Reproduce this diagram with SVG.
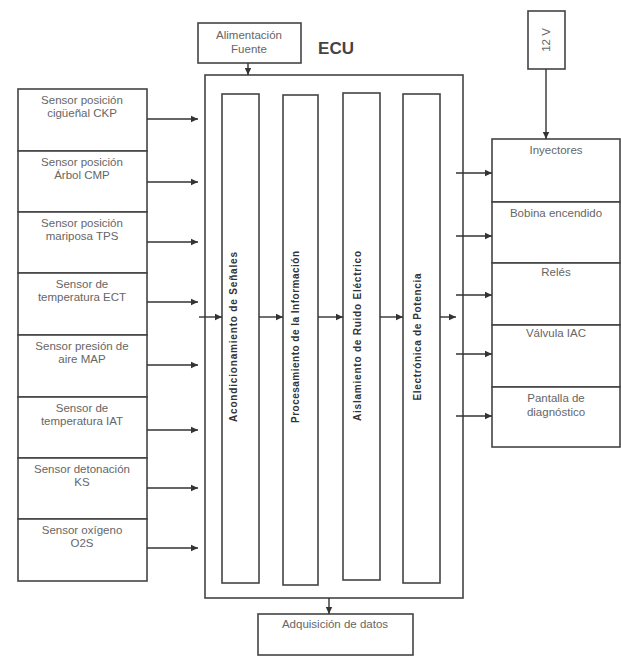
<svg xmlns="http://www.w3.org/2000/svg" width="621" height="657" viewBox="0 0 621 657">
<style>
.box{fill:#fff;stroke:#444;stroke-width:1.6}
.t{font-family:"Liberation Sans",Arial,sans-serif;font-size:11.5px;fill:#666;text-anchor:middle}
.v{font-family:"Liberation Sans",Arial,sans-serif;font-size:10px;font-weight:bold;fill:#333;text-anchor:middle}
.c{stroke:#333;stroke-width:1.4;fill:none;marker-end:url(#ah)}
</style>
<defs>
<marker id="ah" markerUnits="userSpaceOnUse" markerWidth="8" markerHeight="8" refX="7" refY="4" orient="auto">
<path d="M0,0.8 L7,4 L0,7.2 Z" fill="#333"/>
</marker>
</defs>
<rect width="621" height="657" fill="#fff"/>

<g id="ecu">
<rect class="box" x="205" y="75" width="258" height="523" stroke-width="2"/>
<text x="336" y="54" font-family="'Liberation Sans',Arial,sans-serif" font-size="17" font-weight="bold" fill="#444" text-anchor="middle">ECU</text>
</g>

<g id="alimentacion">
<rect class="box" x="198" y="23" width="103" height="40"/>
<text class="t" x="249" y="39">Alimentación</text>
<text class="t" x="249" y="53">Fuente</text>
</g>

<g id="v12">
<rect class="box" x="528" y="11" width="37" height="58"/>
<text class="t" transform="translate(550,40) rotate(-90)">12 V</text>
</g>

<g id="adquisicion">
<rect class="box" x="258" y="614" width="155" height="41"/>
<text class="t" x="335" y="628">Adquisición de datos</text>
</g>

<g id="col1">
<rect class="box" x="222" y="94" width="37" height="489"/>
<text class="v" transform="translate(237,337) rotate(-90)" textLength="170" lengthAdjust="spacing">Acondicionamiento de Señales</text>
</g>
<g id="col2">
<rect class="box" x="283" y="95" width="35" height="490"/>
<text class="v" transform="translate(299,337) rotate(-90)" textLength="172" lengthAdjust="spacing">Procesamiento de la Información</text>
</g>
<g id="col3">
<rect class="box" x="343" y="93" width="37" height="487"/>
<text class="v" transform="translate(361,336) rotate(-90)" textLength="170" lengthAdjust="spacing">Aislamiento de Ruido Eléctrico</text>
</g>
<g id="col4">
<rect class="box" x="403" y="94" width="37" height="489"/>
<text class="v" transform="translate(421,337) rotate(-90)" textLength="127" lengthAdjust="spacing">Electrónica de Potencia</text>
</g>

<g id="sensores">
<g id="s1"><rect class="box" x="18" y="89" width="129" height="62"/>
<text class="t" x="82" y="104">Sensor posición</text><text class="t" x="82" y="117">cigüeñal CKP</text></g>
<g id="s2"><rect class="box" x="18" y="151" width="129" height="61"/>
<text class="t" x="82" y="166">Sensor posición</text><text class="t" x="82" y="179">Árbol CMP</text></g>
<g id="s3"><rect class="box" x="18" y="212" width="129" height="61"/>
<text class="t" x="82" y="227">Sensor posición</text><text class="t" x="82" y="240">mariposa TPS</text></g>
<g id="s4"><rect class="box" x="18" y="273" width="129" height="62"/>
<text class="t" x="82" y="288">Sensor de</text><text class="t" x="82" y="301">temperatura ECT</text></g>
<g id="s5"><rect class="box" x="18" y="335" width="129" height="62"/>
<text class="t" x="82" y="350">Sensor presión de</text><text class="t" x="82" y="363">aire MAP</text></g>
<g id="s6"><rect class="box" x="18" y="397" width="129" height="61"/>
<text class="t" x="82" y="412">Sensor de</text><text class="t" x="82" y="425">temperatura IAT</text></g>
<g id="s7"><rect class="box" x="18" y="458" width="129" height="61"/>
<text class="t" x="82" y="473">Sensor detonación</text><text class="t" x="82" y="486">KS</text></g>
<g id="s8"><rect class="box" x="18" y="519" width="129" height="62"/>
<text class="t" x="82" y="534">Sensor oxígeno</text><text class="t" x="82" y="547">O2S</text></g>
</g>

<g id="actuadores">
<g id="a1"><rect class="box" x="492" y="139" width="128" height="63"/>
<text class="t" x="556" y="154">Inyectores</text></g>
<g id="a2"><rect class="box" x="492" y="202" width="128" height="61"/>
<text class="t" x="556" y="217">Bobina encendido</text></g>
<g id="a3"><rect class="box" x="492" y="263" width="128" height="62"/>
<text class="t" x="556" y="276">Relés</text></g>
<g id="a4"><rect class="box" x="492" y="325" width="128" height="62"/>
<text class="t" x="556" y="337">Válvula IAC</text></g>
<g id="a5"><rect class="box" x="492" y="387" width="128" height="60"/>
<text class="t" x="556" y="402">Pantalla de</text><text class="t" x="556" y="416">diagnóstico</text></g>
</g>

<g id="conectores">
<line class="c" x1="147" y1="119" x2="198" y2="119"/>
<line class="c" x1="147" y1="182" x2="198" y2="182"/>
<line class="c" x1="147" y1="242" x2="198" y2="242"/>
<line class="c" x1="147" y1="302" x2="198" y2="302"/>
<line class="c" x1="147" y1="365" x2="198" y2="365"/>
<line class="c" x1="147" y1="430" x2="198" y2="430"/>
<line class="c" x1="147" y1="488" x2="198" y2="488"/>
<line class="c" x1="147" y1="548" x2="198" y2="548"/>
<line class="c" x1="199" y1="317" x2="222" y2="317"/>
<line class="c" x1="259" y1="317" x2="283" y2="317"/>
<line class="c" x1="318" y1="317" x2="343" y2="317"/>
<line class="c" x1="380" y1="317" x2="403" y2="317"/>
<line class="c" x1="440" y1="317" x2="456" y2="317"/>
<line class="c" x1="456" y1="173" x2="492" y2="173"/>
<line class="c" x1="456" y1="236" x2="492" y2="236"/>
<line class="c" x1="456" y1="295" x2="492" y2="295"/>
<line class="c" x1="456" y1="354" x2="492" y2="354"/>
<line class="c" x1="456" y1="416" x2="492" y2="416"/>
<line class="c" x1="248" y1="63" x2="248" y2="75"/>
<line class="c" x1="546" y1="69" x2="546" y2="139"/>
<line class="c" x1="329" y1="598" x2="329" y2="614"/>
</g>
</svg>
